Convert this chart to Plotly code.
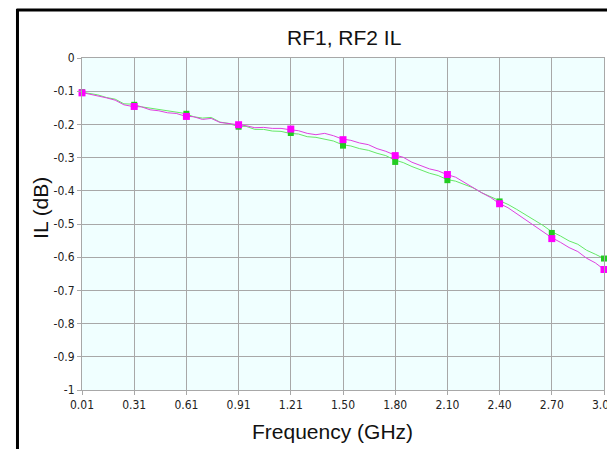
import plotly.graph_objects as go

# ---- data ----
freq = [0.01, 0.05, 0.10, 0.15, 0.20, 0.25, 0.30, 0.35, 0.40, 0.45, 0.50, 0.55, 0.60,
        0.65, 0.70, 0.75, 0.80, 0.85, 0.90, 0.95, 1.00, 1.05, 1.10, 1.15, 1.20, 1.25,
        1.30, 1.35, 1.40, 1.45, 1.50, 1.55, 1.60, 1.65, 1.70, 1.75, 1.80, 1.85, 1.90,
        1.95, 2.00, 2.05, 2.10, 2.15, 2.20, 2.25, 2.30, 2.35, 2.40, 2.45, 2.50, 2.55,
        2.60, 2.65, 2.70, 2.75, 2.80, 2.85, 2.90, 2.95, 3.00]

il_green = [-0.103, -0.107, -0.111, -0.119, -0.124, -0.138, -0.139, -0.147, -0.151, -0.157,
            -0.159, -0.165, -0.167, -0.177, -0.181, -0.179, -0.193, -0.197, -0.206, -0.206,
            -0.215, -0.215, -0.220, -0.221, -0.227, -0.229, -0.237, -0.239, -0.245, -0.250,
            -0.261, -0.265, -0.273, -0.278, -0.287, -0.294, -0.307, -0.315, -0.327, -0.337,
            -0.347, -0.354, -0.366, -0.371, -0.381, -0.391, -0.406, -0.418, -0.431, -0.441,
            -0.456, -0.471, -0.488, -0.504, -0.523, -0.536, -0.551, -0.561, -0.579, -0.591,
            -0.604]

il_magenta = [-0.104, -0.108, -0.114, -0.120, -0.127, -0.141, -0.146, -0.147, -0.156, -0.159,
              -0.165, -0.167, -0.175, -0.177, -0.185, -0.182, -0.194, -0.197, -0.202, -0.204,
              -0.210, -0.209, -0.212, -0.212, -0.216, -0.219, -0.227, -0.231, -0.227, -0.234,
              -0.244, -0.248, -0.256, -0.261, -0.273, -0.281, -0.292, -0.299, -0.314, -0.324,
              -0.334, -0.340, -0.351, -0.359, -0.375, -0.389, -0.406, -0.420, -0.438, -0.451,
              -0.469, -0.485, -0.504, -0.521, -0.541, -0.555, -0.571, -0.583, -0.603, -0.617,
              -0.637]

marker_freq = [0.01, 0.309, 0.608, 0.907, 1.206, 1.505, 1.804, 2.103, 2.402, 2.701, 3.00]
marker_green = [-0.103, -0.141, -0.168, -0.207, -0.226, -0.264, -0.313, -0.368, -0.432, -0.527, -0.604]
marker_magenta = [-0.105, -0.146, -0.176, -0.201, -0.214, -0.246, -0.294, -0.351, -0.439, -0.544, -0.637]

x_tick_vals = marker_freq
x_tick_text = ["0.01", "0.31", "0.61", "0.91", "1.21", "1.50", "1.80", "2.10", "2.40", "2.70", "3.00"]
y_tick_vals = [0, -0.1, -0.2, -0.3, -0.4, -0.5, -0.6, -0.7, -0.8, -0.9, -1]
y_tick_text = ["0", "-0.1", "-0.2", "-0.3", "-0.4", "-0.5", "-0.6", "-0.7", "-0.8", "-0.9", "-1"]

title_text = "RF1, RF2 IL"
x_title = "Frequency (GHz)"
y_title = "IL (dB)"

# ---- figure ----
W, H = 615, 449
L, R, T, B = 74, 7, 50, 67
pw, ph = W - L - R, H - T - B

def px(x):
    return (x - L) / pw

def py(y):
    return (H - B - y) / ph

GREEN = "#66e866"
MAGENTA = "#e040e0"

fig = go.Figure()
fig.add_trace(go.Scatter(x=freq, y=il_green, mode="lines",
                         line=dict(color=GREEN, width=1), showlegend=False))
fig.add_trace(go.Scatter(x=freq, y=il_magenta, mode="lines",
                         line=dict(color=MAGENTA, width=1), showlegend=False))
fig.add_trace(go.Scatter(x=marker_freq, y=marker_green, mode="markers", cliponaxis=False,
                         marker=dict(symbol="square", size=6, color="#22cc22"), showlegend=False))
fig.add_trace(go.Scatter(x=marker_freq, y=marker_magenta, mode="markers", cliponaxis=False,
                         marker=dict(symbol="square", size=7, color="#ff00ff"), showlegend=False))

tick_font = dict(family="Liberation Sans Narrow, DejaVu Sans Condensed, Arial Narrow, sans-serif",
                 size=12, color="#222222")
big_font = "Liberation Sans, Arial, sans-serif"

fig.update_xaxes(range=[0.01, 3.0], tickvals=x_tick_vals, ticktext=x_tick_text,
                 showgrid=True, gridcolor="#a8a8a8", gridwidth=1,
                 showline=True, linecolor="#a8a8a8", mirror=True,
                 ticks="outside", ticklen=4, tickcolor="#a8a8a8",
                 tickfont=tick_font, zeroline=False, ticklabeloverflow="allow")
fig.update_yaxes(range=[-1, 0], tickvals=y_tick_vals, ticktext=y_tick_text,
                 showgrid=True, gridcolor="#a8a8a8", gridwidth=1,
                 showline=True, linecolor="#a8a8a8", mirror=True,
                 ticks="outside", ticklen=4, tickcolor="#a8a8a8",
                 tickfont=tick_font, zeroline=False, ticklabeloverflow="allow")

fig.update_layout(
    width=W, height=H,
    margin=dict(l=L, r=R, t=T, b=B, pad=0),
    paper_bgcolor="white", plot_bgcolor="#f0ffff",
    annotations=[
        dict(text=title_text, x=px(342), y=py(30), xref="paper", yref="paper",
             showarrow=False, xanchor="center", yanchor="middle",
             font=dict(family=big_font, size=21, color="#111111")),
        dict(text=x_title, x=px(330), y=py(423), xref="paper", yref="paper",
             showarrow=False, xanchor="center", yanchor="middle",
             font=dict(family=big_font, size=21, color="#111111")),
        dict(text=y_title, x=px(32), y=py(200), xref="paper", yref="paper",
             showarrow=False, xanchor="center", yanchor="middle", textangle=-90,
             font=dict(family=big_font, size=21, color="#111111")),
    ],
    shapes=[
        dict(type="line", xref="paper", yref="paper", x0=px(8), x1=px(8), y0=py(1), y1=py(448),
             line=dict(color="black", width=3)),
        dict(type="line", xref="paper", yref="paper", x0=px(7), x1=px(616), y0=py(2), y1=py(2),
             line=dict(color="black", width=3)),
        dict(type="line", xref="paper", yref="paper", x0=px(7), x1=px(616), y0=py(447.5), y1=py(447.5),
             line=dict(color="#c8c8c8", width=1.5)),
    ],
)

fig.write_html("out.html")
